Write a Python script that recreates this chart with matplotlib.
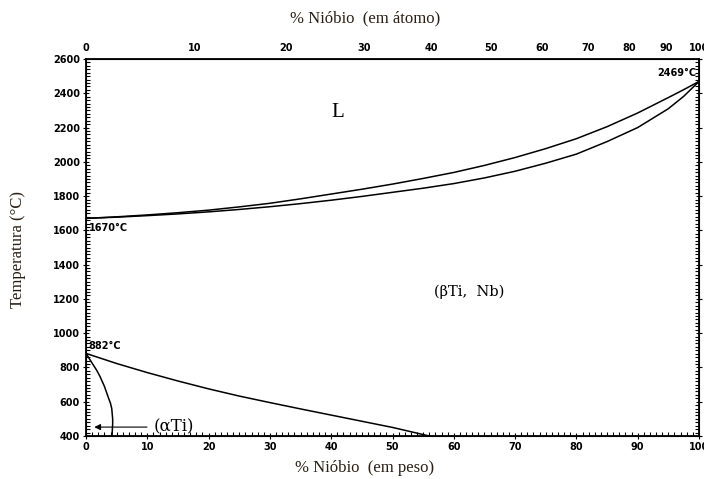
import numpy as np
import matplotlib
matplotlib.use('Agg')
import matplotlib.pyplot as plt
from matplotlib.ticker import MultipleLocator

# Ti-Nb phase diagram, composition in weight % Nb
liq_wt = [0, 5, 10, 15, 20, 25, 30, 35, 40, 45, 50, 55, 60, 65, 70, 75, 80,
          85, 90, 95, 97.5, 100]
liq_T = [1670, 1679, 1690, 1703, 1718, 1737, 1758, 1784, 1812, 1840, 1870,
         1903, 1938, 1979, 2025, 2077, 2135, 2205, 2285, 2375, 2421, 2469]

sol_wt = [0, 5, 10, 15, 20, 25, 30, 35, 40, 45, 50, 55, 60, 65, 70, 75, 80,
          85, 90, 95, 97.5, 100]
sol_T = [1670, 1677, 1686, 1696, 1708, 1722, 1738, 1756, 1776, 1798, 1822,
         1846, 1873, 1906, 1945, 1992, 2045, 2118, 2200, 2310, 2382, 2469]

# beta transus
bt_wt = [0, 5, 10, 15, 20, 25, 30, 35, 40, 45, 50, 53, 56]
bt_T = [882, 823, 770, 721, 675, 633, 595, 558, 522, 486, 450, 425, 400]

# alpha solvus
as_wt = [0, 0.6, 1.2, 1.8, 2.3, 3.0, 3.6, 4.0, 4.2, 4.35, 4.35, 4.3, 4.25]
as_T = [882, 848, 814, 780, 746, 690, 629, 590, 560, 500, 470, 440, 400]

at_ticks = [0, 10, 20, 30, 40, 50, 60, 70, 80, 90, 100]

M_NB = 92.906
M_TI = 47.867


def at_to_wt(x):
    x = np.asarray(x, dtype=float)
    return 100 * x * M_NB / (x * M_NB + (100 - x) * M_TI)


txt_col = '#2a1f14'
tick_font = {'family': 'DejaVu Sans', 'weight': 'bold', 'size': 7}

fig = plt.figure(figsize=(7.04, 4.79), dpi=100)
ax = fig.add_axes([86 / 704, 43 / 479, 613 / 704, 377 / 479])

for xs, ys in [(liq_wt, liq_T), (sol_wt, sol_T), (bt_wt, bt_T), (as_wt, as_T)]:
    ax.plot(xs, ys, color='black', lw=1.1, solid_joinstyle='round')

ax.set_xlim(0, 100)
ax.set_ylim(400, 2600)
ax.xaxis.set_major_locator(MultipleLocator(10))
ax.xaxis.set_minor_locator(MultipleLocator(1))
ax.yaxis.set_major_locator(MultipleLocator(200))
ax.yaxis.set_minor_locator(MultipleLocator(20))
ax.tick_params(which='both', top=True, right=True, labeltop=False, width=0.8)
ax.tick_params(which='major', direction='inout', length=5, pad=2)
ax.tick_params(which='minor', direction='in', length=3)
for lab in ax.get_xticklabels() + ax.get_yticklabels():
    lab.set_fontproperties(tick_font)
for s in ax.spines.values():
    s.set_linewidth(1.3)

# atomic % scale along the top
ax2 = ax.twiny()
ax2.set_xlim(0, 100)
ax2.set_xticks(at_to_wt(at_ticks))
ax2.set_xticklabels([str(v) for v in at_ticks])
ax2.tick_params(length=0, pad=4)
for lab in ax2.get_xticklabels():
    lab.set_fontproperties(tick_font)

serif = 'Liberation Serif'
fig.text(365 / 704, 1 - 18 / 479, '% Nióbio  (em átomo)', ha='center', va='center',
         family=serif, fontsize=12, color=txt_col)
fig.text(365 / 704, 1 - 468 / 479, '% Nióbio  (em peso)', ha='center', va='center',
         family=serif, fontsize=12, color=txt_col)
fig.text(18 / 704, 1 - 250 / 479, 'Temperatura (°C)', ha='center', va='center',
         rotation=90, family=serif, fontsize=12, color=txt_col)

ax.text(41, 2290, 'L', family=serif, fontsize=15, ha='center', va='center')
ax.text(62.5, 1240, '(βTi,  Nb)', family='DejaVu Serif', fontsize=10.5,
        ha='center', va='center')
ax.text(11, 452, '(αTi)', family='DejaVu Serif', fontsize=12,
        ha='left', va='center')
ax.annotate('', xy=(0.9, 452), xytext=(10.4, 452),
            arrowprops=dict(arrowstyle='-|>', color='black', lw=0.8,
                            mutation_scale=9))

ax.text(0.4, 1645, '1670°C', fontdict=tick_font, ha='left', va='top')
ax.text(99.6, 2490, '2469°C', fontdict=tick_font, ha='right', va='bottom')
ax.text(0.4, 895, '882°C', fontdict=tick_font, ha='left', va='bottom')

fig.savefig('out.png', dpi=100)
